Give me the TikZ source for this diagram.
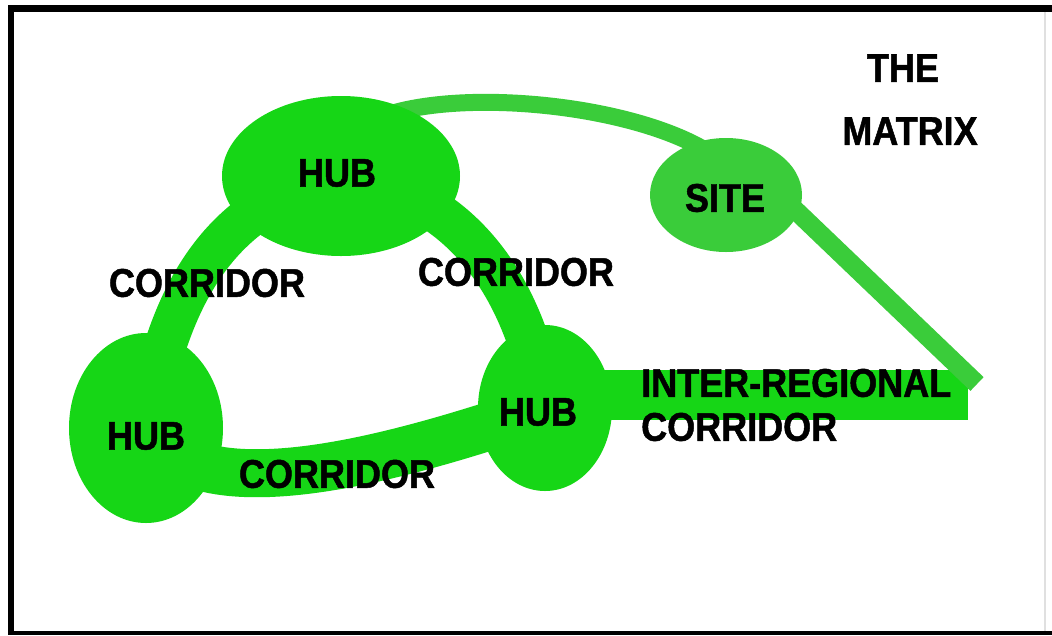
\documentclass[tikz,border=0pt]{standalone}
\usepackage{fontspec}
\newfontfamily\labfont[FakeStretch=0.9, BoldFeatures={FakeBold=1.2}]{Liberation Sans}
\usetikzlibrary{shapes.geometric,calc,backgrounds}
\definecolor{hubgreen}{RGB}{22,214,22}
\definecolor{sitegreen}{RGB}{58,204,58}
\tikzset{
  lbl/.style={font=\labfont\bfseries\fontsize{40}{40}\selectfont, inner sep=0pt, text=black},
  hubnode/.style={ellipse, fill=hubgreen, draw=none, inner sep=0pt},
  sitenode/.style={ellipse, fill=sitegreen, draw=none, inner sep=0pt},
  corridor/.style={draw=hubgreen, line width=#1},
  corridor/.default=42pt,
  link/.style={draw=sitegreen, line width=#1},
  link/.default=17pt
}
\begin{document}
\begin{tikzpicture}[x=1pt,y=-1pt]
  \useasboundingbox (0,0) rectangle (1052,635);

  % hubs and site
  \node[hubnode, minimum width=238pt, minimum height=160pt] (hubT) at (341,176) {};
  \node[hubnode, minimum width=154pt, minimum height=190pt] (hubL) at (146,428) {};
  \node[hubnode, minimum width=134pt, minimum height=166pt] (hubR) at (545,408) {};
  \node[sitenode, minimum width=152pt, minimum height=114pt] (site) at (726,195) {};
  \coordinate (irEnd) at (968,395);
  \coordinate (tip) at (977,384);

  % paper, frame and corridors behind the nodes
  \begin{pgfonlayer}{background}
    \fill[white] (0,0) rectangle (1052,635);
    \fill[black] (8,5) rectangle (14,635);
    \fill[black] (8,5) rectangle (1052,12);
    \fill[black] (8,631) rectangle (1052,635);
    \draw[black!12, line width=1.5pt] (1045,12) -- (1045,631);

    \draw[corridor=42pt] (hubT.center) .. controls (230,200) and (170,280) .. (hubL.center);
    \draw[corridor=42pt] (hubT.center) .. controls (440,190) and (520,260) .. (hubR.center);
    \draw[corridor=48pt] (hubL.center) .. controls (200,520) and (420,450) .. (hubR.center);
    \draw[corridor=50pt] ($(hubR.center)+(0,-13)$) -- (irEnd);
    \draw[link=17pt] ($(hubT.center)+(20,-50)$) .. controls (430,85) and (620,100) .. ($(site.center)+(-21,-45)$);
    \draw[link=19pt] ($(site.center)+(64,10)$) -- (tip);
  \end{pgfonlayer}

  % labels
  \node[lbl] (tThe) at (903,68) {THE};
  \node[lbl] (tMatrix) at (910,131) {MATRIX};
  \node[lbl] (tHubT) at (337,173) {HUB};
  \node[lbl] (tSite) at (725,198) {SITE};
  \node[lbl] (tCorL) at (207,283) {CORRIDOR};
  \node[lbl] (tCorR) at (516,272) {CORRIDOR};
  \node[lbl] (tHubL) at (146,436) {HUB};
  \node[lbl] (tHubR) at (538,412) {HUB};
  \node[lbl] (tCorB) at (337,474) {CORRIDOR};
  \node[lbl, anchor=west] (tInter) at (641,383) {INTER-REGIONAL};
  \node[lbl, anchor=west] (tInterC) at (641,427) {CORRIDOR};
\end{tikzpicture}
\end{document}
